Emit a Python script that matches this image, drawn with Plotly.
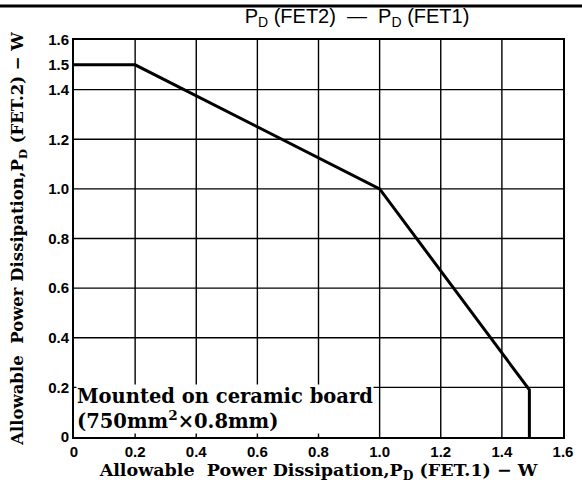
import plotly.graph_objects as go

# data: allowable PD(FET2) vs PD(FET1)
pd_fet1 = [0.0, 0.2, 1.0, 1.49, 1.49]
pd_fet2 = [1.5, 1.5, 1.0, 0.19, 0.0]

x_ticks = [0, 0.2, 0.4, 0.6, 0.8, 1.0, 1.2, 1.4, 1.6]
x_tick_text = ["0", "0.2", "0.4", "0.6", "0.8", "1.0", "1.2", "1.4", "1.6"]
y_ticks = [0, 0.2, 0.4, 0.6, 0.8, 1.0, 1.2, 1.4, 1.5, 1.6]
y_tick_text = ["0", "0.2", "0.4", "0.6", "0.8", "1.0", "1.2", "1.4", "1.5", "1.6"]
grid_vals = [0.2, 0.4, 0.6, 0.8, 1.0, 1.2, 1.4]

W, H = 582, 492
ml, mr, mt, mb = 74, 19, 40, 55
pw, ph = W - ml - mr, H - mt - mb

fig = go.Figure()
fig.add_trace(go.Scatter(x=pd_fet1, y=pd_fet2, mode="lines",
                         line=dict(color="black", width=3), hoverinfo="skip"))

shapes = []
for g in grid_vals:
    shapes.append(dict(type="line", xref="x", yref="paper", x0=g, x1=g, y0=0, y1=1,
                       line=dict(color="black", width=1.4), layer="below"))
    shapes.append(dict(type="line", xref="paper", yref="y", x0=0, x1=1, y0=g, y1=g,
                       line=dict(color="black", width=1.4), layer="below"))
# top rule of the datasheet page
shapes.append(dict(type="line", xref="paper", yref="paper",
                   x0=-ml / pw, x1=(W - ml) / pw,
                   y0=1 + (mt - 6) / ph, y1=1 + (mt - 6) / ph,
                   line=dict(color="black", width=3), layer="above"))

tick_font = dict(family="Liberation Sans", size=15, color="black", weight="bold")

fig.update_layout(
    width=W, height=H,
    margin=dict(l=ml, r=mr, t=mt, b=mb, autoexpand=False),
    paper_bgcolor="white", plot_bgcolor="white",
    showlegend=False,
    shapes=shapes,
    title=dict(text="P<sub>D</sub> (FET2)  \u2014  P<sub>D</sub> (FET1)",
               x=357 / W, xanchor="center", y=1 - 16 / H, yanchor="middle",
               automargin=False,
               font=dict(family="Liberation Sans", size=20, color="black")),
    xaxis=dict(range=[0, 1.6], tickvals=x_ticks, ticktext=x_tick_text,
               showgrid=False, zeroline=False, showline=True, mirror=True,
               linecolor="black", linewidth=2, ticks="", tickfont=tick_font,
               automargin=False,
               title=dict(text="<b>Allowable  Power Dissipation,P<sub>D</sub> (FET.1) \u2212 W</b>",
                          font=dict(family="DejaVu Serif", size=17.5, color="black"),
                          standoff=4)),
    yaxis=dict(range=[0, 1.6], tickvals=y_ticks, ticktext=y_tick_text,
               showgrid=False, zeroline=False, showline=True, mirror=True,
               linecolor="black", linewidth=2, ticks="", tickfont=tick_font,
               automargin=False,
               title=dict(text="<b>Allowable  Power Dissipation,P<sub>D</sub> (FET.2) \u2212 W</b>",
                          font=dict(family="DejaVu Serif", size=16.5, color="black"),
                          standoff=20)),
)

fig.add_annotation(
    x=0, y=0, xref="x", yref="y", xanchor="left", yanchor="bottom",
    xshift=2, yshift=3, align="left", showarrow=False,
    text="<b>Mounted on ceramic board<br>(750mm<sup>2</sup>\u00d70.8mm)</b>",
    font=dict(family="DejaVu Serif", size=19.5, color="black"),
    bgcolor="white", borderpad=0,
)

fig.write_html("out.html", config={"displayModeBar": False},
               post_script="document.body.style.margin='0';document.body.style.padding='0';")
